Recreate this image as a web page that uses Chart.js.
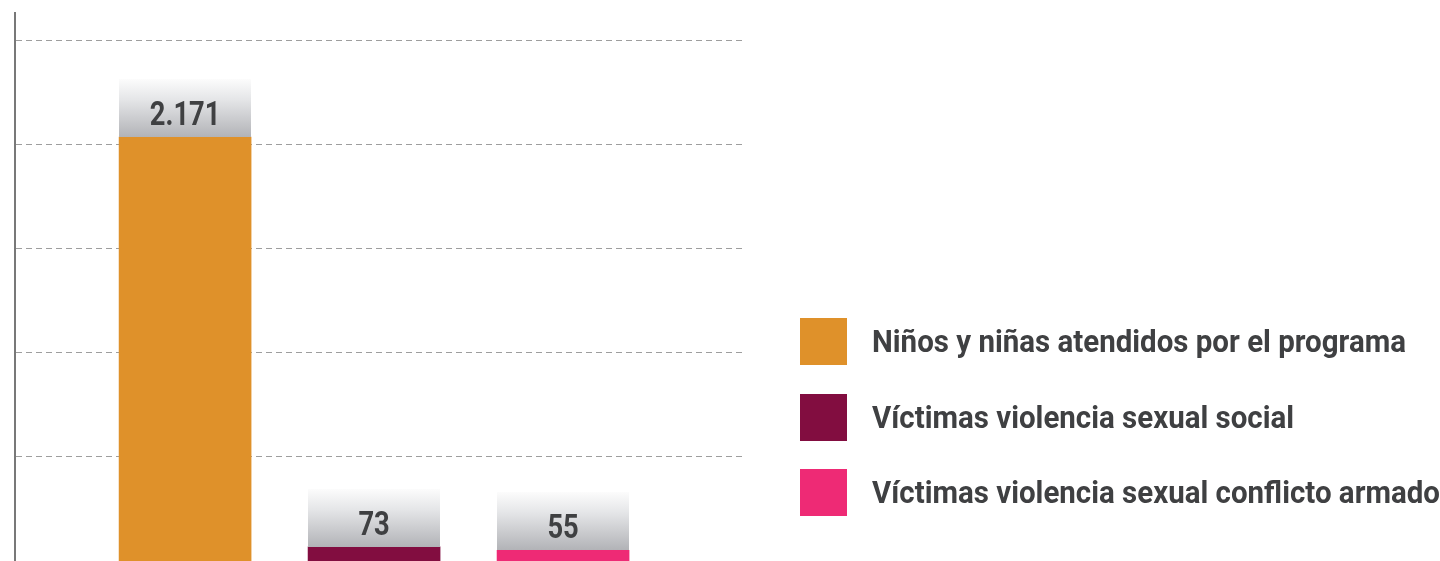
<!DOCTYPE html>
<html>
<head>
<meta charset="utf-8">
<script src="https://cdn.jsdelivr.net/npm/chart.js@4.4.1/dist/chart.umd.min.js"></script>
<style>
  html, body { margin: 0; padding: 0; background: #ffffff; }
  #wrap { position: relative; width: 1440px; height: 561px; overflow: hidden; }
  #wrap canvas { position: absolute; left: 0; top: 0; }
  #legend { position: absolute; left: 800px; top: 318px; margin: 0; padding: 0; list-style: none; }
  #legend li { position: relative; height: 47px; margin: 0 0 28.5px 0; padding: 0; white-space: nowrap; }
  #legend .sw { position: absolute; left: 0; top: 0; width: 47px; height: 47px; }
  #legend .tx { position: absolute; left: 72px; top: 0; line-height: 47px; font-family: Roboto, "Noto Sans", sans-serif; font-size: 31.5px; font-weight: bold; color: #3f4042; transform-origin: 0 50%; }
</style>
</head>
<body>
<div id="wrap">
  <canvas id="chart" width="1440" height="561"></canvas>
  <ul id="legend"></ul>
</div>
<script>
// ---- data ----
const categories = [
  "Niños y niñas atendidos por el programa",
  "Víctimas violencia sexual social",
  "Víctimas violencia sexual conflicto armado"
];
const values = [2171, 73, 55];
const valueLabels = ["2.171", "73", "55"];
const colors = ["#DF912A", "#820D40", "#EE2A75"];

const FONT = 'Roboto, "Noto Sans", sans-serif';
const Y_MAX = 2806;
const Y_STEP = 533;
const GRID_COUNT = 5;

// condensed look: horizontal squeeze factors measured from the font
const mctx = document.createElement('canvas').getContext('2d');
mctx.font = 'bold 34px ' + FONT;
const numScale = 70.6 / mctx.measureText(valueLabels[0]).width;
mctx.font = 'bold 31.5px ' + FONT;
const legendScale = 534 / mctx.measureText(categories[0]).width;

// label boxes above each bar
const valueBoxPlugin = {
  id: 'valueBoxes',
  afterDatasetsDraw(chart) {
    const ctx = chart.ctx;
    const meta = chart.getDatasetMeta(0);
    meta.data.forEach((bar, i) => {
      const w = bar.width;
      const left = Math.round(bar.x - w / 2);
      const bottom = Math.round(bar.y);
      const h = 58;
      const top = bottom - h;
      const g = ctx.createLinearGradient(0, top, 0, bottom);
      g.addColorStop(0, '#fcfcfc');
      g.addColorStop(0.35, '#e5e6e8');
      g.addColorStop(1, '#b2b3b7');
      ctx.save();
      ctx.fillStyle = g;
      ctx.fillRect(left, top, Math.round(w), h);
      ctx.translate(bar.x, bottom - 12);
      ctx.scale(numScale, 1);
      ctx.fillStyle = '#3f4042';
      ctx.font = 'bold 34px ' + FONT;
      ctx.textAlign = 'center';
      ctx.textBaseline = 'alphabetic';
      ctx.fillText(valueLabels[i], 0, 0);
      ctx.restore();
    });
  }
};

const chart = new Chart(document.getElementById('chart'), {
  type: 'bar',
  data: {
    datasets: [{
      label: 'Total',
      data: values.map((v, i) => ({ x: i, y: v })),
      backgroundColor: colors,
      borderWidth: 0,
      barThickness: 132
    }]
  },
  options: {
    responsive: false,
    animation: false,
    layout: { padding: { left: 15, right: 694, top: 13, bottom: 0 } },
    plugins: { legend: { display: false }, tooltip: { enabled: false } },
    scales: {
      x: {
        type: 'linear',
        offset: false,
        min: -0.9,
        max: 2.968,
        display: false,
        grid: { display: false }
      },
      y: {
        min: 0,
        max: Y_MAX,
        afterBuildTicks: (scale) => {
          const t = [];
          for (let k = 1; k <= GRID_COUNT; k++) t.push({ value: k * Y_STEP });
          scale.ticks = t;
        },
        ticks: { display: false },
        grid: { drawTicks: false, lineWidth: 1, color: '#9e9e9e' },
        border: { display: true, color: '#787878', width: 2, dash: [6, 4] }
      }
    }
  },
  plugins: [valueBoxPlugin]
});

// HTML legend built from the data arrays
const legend = document.getElementById('legend');
categories.forEach((name, i) => {
  const li = document.createElement('li');
  const sw = document.createElement('span');
  sw.className = 'sw';
  sw.style.background = colors[i];
  const tx = document.createElement('span');
  tx.className = 'tx';
  tx.textContent = name;
  tx.style.transform = 'scaleX(' + legendScale + ')';
  li.appendChild(sw);
  li.appendChild(tx);
  legend.appendChild(li);
});
</script>
</body>
</html>
